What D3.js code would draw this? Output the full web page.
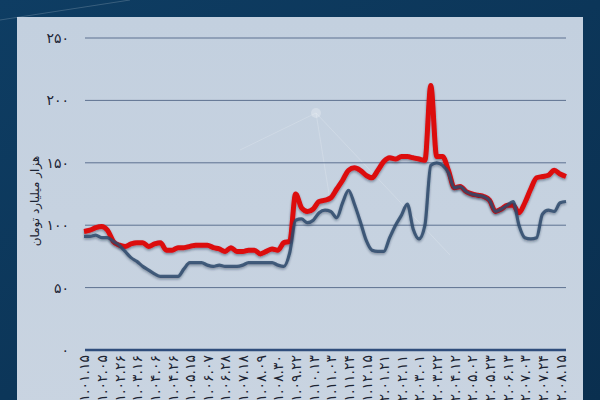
<!DOCTYPE html>
<html>
<head>
<meta charset="utf-8">
<script src="https://cdn.jsdelivr.net/npm/d3@7"></script>
<style>
  body { margin: 0; background: #0b3557; }
  svg { display: block; }
</style>
</head>
<body>
<div class="chart"></div>
<script>
// tick labels on the x axis (one every third week)
var tickLabels = [
  '۱۴۰۱.۰۱.۱۵', '۱۴۰۱.۰۲.۰۵', '۱۴۰۱.۰۲.۲۶', '۱۴۰۱.۰۳.۱۶', '۱۴۰۱.۰۴.۰۶', '۱۴۰۱.۰۴.۲۶',
  '۱۴۰۱.۰۵.۱۵', '۱۴۰۱.۰۶.۰۷', '۱۴۰۱.۰۶.۲۸', '۱۴۰۱.۰۷.۱۸', '۱۴۰۱.۰۸.۰۹', '۱۴۰۱.۰۸.۳۰',
  '۱۴۰۱.۰۹.۲۲', '۱۴۰۱.۱۰.۱۳', '۱۴۰۱.۱۱.۰۳', '۱۴۰۱.۱۱.۲۴', '۱۴۰۱.۱۲.۱۵', '۱۴۰۲.۰۱.۲۱',
  '۱۴۰۲.۰۲.۱۱', '۱۴۰۲.۰۳.۰۱', '۱۴۰۲.۰۳.۲۲', '۱۴۰۲.۰۴.۱۲', '۱۴۰۲.۰۵.۰۲', '۱۴۰۲.۰۵.۲۳',
  '۱۴۰۲.۰۶.۱۳', '۱۴۰۲.۰۷.۰۳', '۱۴۰۲.۰۷.۲۴', '۱۴۰۲.۰۸.۱۵'
];
var yTicks = [0, 50, 100, 150, 200, 250];
var yTitle = 'هزار میلیارد تومان';

// weekly values, red series
var redValues = [
  95, 96, 98, 99, 96, 87, 84, 83, 85, 86, 86, 83, 85, 86, 80, 80, 82, 82, 83, 84,
  84, 84, 82, 81, 79, 82, 79, 79, 80, 80, 77, 79, 81, 80, 86, 87, 125, 114, 111, 113,
  119, 120, 122, 129, 136, 144, 146, 144, 140, 138, 144, 151, 154, 153, 155, 155, 154, 153, 152, 212,
  155, 155, 144, 130, 131, 127, 125, 124, 123, 120, 111, 113, 116, 116, 110, 118, 129, 138, 139, 140,
  144, 141, 139
];
// weekly values, blue series
var blueValues = [
  91, 91, 92, 90, 90, 87, 84, 79, 74, 71, 67, 64, 61, 59, 59, 59, 59, 65, 70, 70,
  70, 68, 67, 68, 67, 67, 67, 68, 70, 70, 70, 70, 70, 68, 67, 78, 104, 105, 102, 104,
  110, 112, 111, 106, 118, 128, 117, 103, 88, 80, 79, 79, 90, 100, 108, 117, 97, 89, 100, 148,
  150, 148, 142, 130, 131, 127, 125, 124, 123, 120, 111, 113, 116, 119, 100, 90, 89, 90, 109, 112,
  111, 118, 119
];

var width = 600;
var height = 400;
var LEFT = 84, RIGHT = 566;

function fa(n) {
  return String(n).replace(/\d/g, function (c) { return '۰۱۲۳۴۵۶۷۸۹'[+c]; });
}

var svg = d3.select('.chart').append('svg')
  .attr('width', width)
  .attr('height', height);

var defs = svg.append('defs');
var bg = defs.append('linearGradient').attr('id', 'outer').attr('x1', 0).attr('y1', 0).attr('x2', 1).attr('y2', 1);
bg.append('stop').attr('offset', '0%').attr('stop-color', '#0e3d63');
bg.append('stop').attr('offset', '100%').attr('stop-color', '#0a2f4f');
var pg = defs.append('linearGradient').attr('id', 'panel').attr('x1', 0).attr('y1', 0).attr('x2', 0).attr('y2', 1);
pg.append('stop').attr('offset', '0%').attr('stop-color', '#c3d0df');
pg.append('stop').attr('offset', '100%').attr('stop-color', '#c9d4e1');
var sh = defs.append('filter').attr('id', 'shadow').attr('x', '-5%').attr('y', '-5%').attr('width', '110%').attr('height', '120%');
sh.append('feDropShadow').attr('dx', 0).attr('dy', 1.5).attr('stdDeviation', 1.2)
  .attr('flood-color', '#1b2838').attr('flood-opacity', 0.45);

// background and light panel
svg.append('rect').attr('width', width).attr('height', height).attr('fill', 'url(#outer)');
svg.append('rect').attr('x', 17).attr('y', 17).attr('width', 566).attr('height', 400)
  .attr('fill', 'url(#panel)');

// faint decorative network lines
var deco = svg.append('g').attr('stroke', '#ffffff').attr('stroke-opacity', 0.18).attr('fill', 'none');
deco.append('line').attr('x1', 240).attr('y1', 150).attr('x2', 316).attr('y2', 113);
deco.append('line').attr('x1', 316).attr('y1', 113).attr('x2', 450).attr('y2', 255);
deco.append('line').attr('x1', 316).attr('y1', 113).attr('x2', 330).attr('y2', 200);
deco.append('line').attr('x1', 0).attr('y1', 20).attr('x2', 130).attr('y2', 0);
svg.append('circle').attr('cx', 316).attr('cy', 113).attr('r', 5).attr('fill', '#ffffff').attr('opacity', 0.25);

var x = d3.scaleLinear().domain([0, redValues.length - 1]).range([LEFT, RIGHT]);
var y = d3.scaleLinear().domain([0, 250]).range([350, 38]);

// grid lines
svg.append('g').selectAll('line.grid')
  .data(yTicks.filter(function (d) { return d > 0; }))
  .enter().append('line')
  .attr('class', 'grid')
  .attr('x1', LEFT + 1).attr('x2', RIGHT)
  .attr('y1', function (d) { return y(d); })
  .attr('y2', function (d) { return y(d); })
  .attr('stroke', '#5d7190')
  .attr('stroke-width', 1);

svg.append('line')
  .attr('x1', LEFT + 1).attr('x2', RIGHT)
  .attr('y1', y(0)).attr('y2', y(0))
  .attr('stroke', '#2f4d7c')
  .attr('stroke-width', 2.5);

// y axis labels
var yAxis = svg.append('g')
  .attr('transform', 'translate(69,0)')
  .call(d3.axisLeft(y).tickValues(yTicks).tickSize(0).tickPadding(0).tickFormat(fa));
yAxis.select('.domain').remove();
yAxis.selectAll('text')
  .attr('fill', '#1c2433')
  .style('font-family', 'DejaVu Sans')
  .style('font-size', '14px');

svg.append('text')
  .attr('transform', 'translate(35,201) rotate(-90)')
  .attr('text-anchor', 'middle')
  .attr('dy', '0.35em')
  .attr('fill', '#1c2433')
  .style('font-family', 'DejaVu Sans')
  .style('font-size', '12px')
  .text(yTitle);

// x axis labels, rotated; the year part runs off the bottom edge as in the source
var xAxis = svg.append('g')
  .attr('transform', 'translate(0,' + 355 + ')')
  .call(d3.axisBottom(x)
    .tickValues(tickLabels.map(function (d, i) { return i * 3; }))
    .tickSize(0).tickPadding(0)
    .tickFormat(function (d) { return tickLabels[d / 3]; }));
xAxis.select('.domain').remove();
xAxis.selectAll('text')
  .attr('transform', 'rotate(-90)')
  .attr('text-anchor', 'end')
  .attr('x', 0).attr('y', 0)
  .attr('dy', '0.35em')
  .attr('fill', '#1c2433')
  .style('font-family', 'DejaVu Sans')
  .style('font-size', '14px');

var line = d3.line()
  .x(function (d, i) { return x(i); })
  .y(function (d) { return y(d); })
  .curve(d3.curveMonotoneX);

svg.append('path')
  .datum(redValues)
  .attr('d', line)
  .attr('fill', 'none')
  .attr('stroke', '#dc0a0a')
  .attr('stroke-width', 5)
  .attr('stroke-linejoin', 'round')
  .attr('filter', 'url(#shadow)');

svg.append('path')
  .datum(blueValues)
  .attr('d', line)
  .attr('fill', 'none')
  .attr('stroke', '#2d4a6c')
  .attr('stroke-width', 3.2)
  .attr('stroke-opacity', 0.85)
  .attr('stroke-linejoin', 'round')
  .attr('filter', 'url(#shadow)');
</script>
</body>
</html>
